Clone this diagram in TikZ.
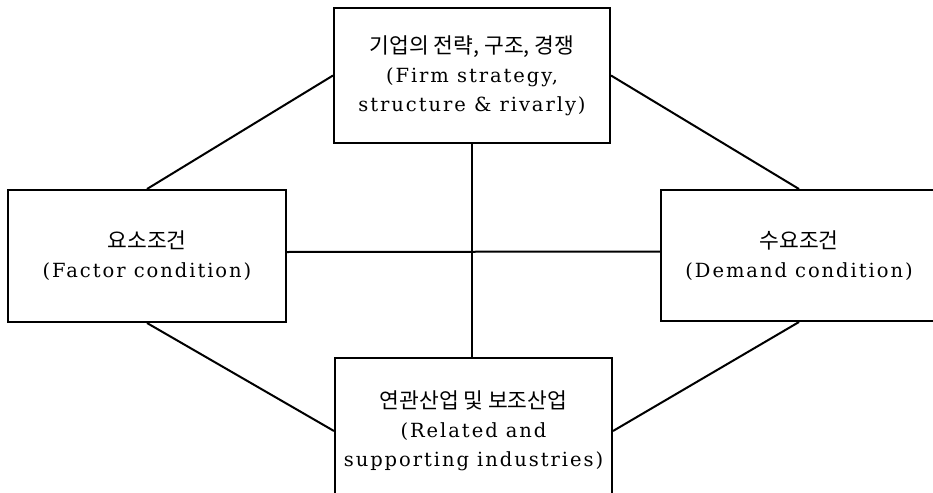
\documentclass[tikz,border=0pt]{standalone}
\usepackage{fontspec}
\setmainfont{DejaVu Serif}[LetterSpace=10]
\newfontfamily\kr{Noto Sans CJK KR}
\newcommand\krl[1]{{\kr\fontsize{21.5}{29}\selectfont #1}}
\begin{document}
\begin{tikzpicture}[x=1pt,y=-1pt,
  box/.style={draw,line width=2pt,rectangle,inner sep=0pt,align=center,
    font=\fontsize{19.5}{29}\selectfont},
  link/.style={line width=2pt}]
\useasboundingbox (0,0) rectangle (933,492);
\node[box,minimum width=276,minimum height=135] (top) at (472,75.5)
  {\krl{기업의 전략, 구조, 경쟁}\\(Firm strategy,\\structure \& rivarly)};
\node[box,minimum width=278,minimum height=132] (left) at (147,256)
  {\krl{요소조건}\\(Factor condition)};
\node[box,minimum width=276,minimum height=131] (right) at (799,255.5)
  {\krl{수요조건}\\(Demand condition)};
\node[box,minimum width=277,minimum height=146] (bottom) at (473.5,431)
  {\krl{연관산업 및 보조산업}\\(Related and\\supporting industries)};
\draw[link] (top.west) -- (left.north);
\draw[link] (top.east) -- (right.north);
\draw[link] (left.south) -- (bottom.west);
\draw[link] (right.south) -- (bottom.east);
\draw[link] (top.south) -- (top.south |- bottom.north);
\draw[link] ([yshift=4pt]left.east) -- ([yshift=4pt]right.west);
\end{tikzpicture}
\end{document}
